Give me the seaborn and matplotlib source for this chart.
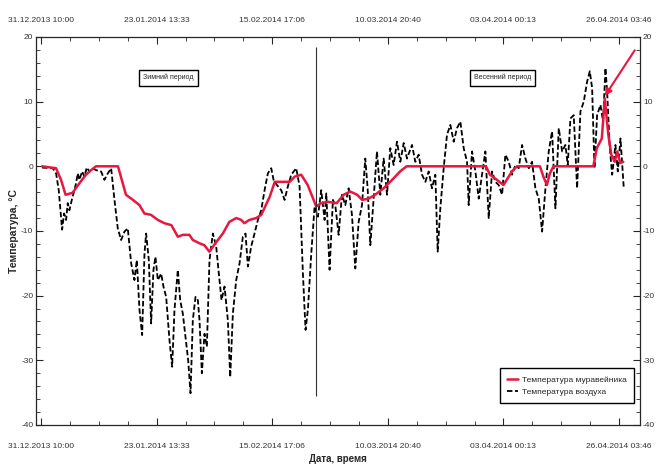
import numpy as np
import pandas as pd
import matplotlib
matplotlib.use("Agg")
import matplotlib.pyplot as plt
import matplotlib.ticker as mticker
import matplotlib.dates as mdates
import seaborn as sns

# ---------------- data (days since 31.12.2013 10:00, °C) ----------------
start = pd.Timestamp("2013-12-31 10:00")

nest_days = [0.2, 3.0, 4.0, 4.9, 6.3, 7.7, 9.0, 10.0, 11.0, 15.4, 17.0, 18.4, 19.7,
             20.7, 22.0, 23.4, 24.7, 26.1, 27.4, 28.4, 29.7, 30.4, 31.7, 32.7, 33.7,
             35.1, 36.4, 37.7, 39.1, 40.1, 40.7, 41.7, 43.1, 44.1, 45.8, 46.8, 49.8,
             50.8, 52.1, 53.4, 55.1, 56.1, 57.5, 59.2, 60.6, 61.9, 63.3, 64.3, 65.6,
             66.9, 68.6, 70.3, 71.9, 73.2, 89.1, 89.9, 91.3, 92.6, 94.3, 95.3, 99.9,
             100.6, 101.3, 101.9, 102.6, 110.6, 111.3, 112.3, 112.9, 113.6, 114.2,
             114.9, 115.4, 116.0, 116.6]
nest_temp = [0.0, -0.3, -2.1, -4.4, -4.1, -2.6, -1.3, -0.6, 0.0, 0.0, -4.4, -5.2, -6.0,
             -7.3, -7.5, -8.3, -8.8, -9.1, -10.9, -10.6, -10.6, -11.4, -11.9, -12.2, -13.2,
             -11.7, -10.4, -8.6, -8.0, -8.3, -8.8, -8.3, -8.0, -7.5, -4.7, -2.4, -2.4,
             -1.6, -1.3, -2.9, -6.2, -5.7, -5.5, -5.7, -4.4, -3.9, -4.4, -5.2, -5.0,
             -4.4, -3.4, -2.1, -0.8, 0.0, 0.0, -1.3, -2.1, -2.9, -0.8, 0.0, 0.0,
             -1.6, -2.9, -1.1, 0.0, 0.0, 2.8, 4.3, 10.5, 4.9, 1.8,
             0.7, 2.3, 0.5, 0.7]

air_days = [0.20, 2.34, 3.01, 3.54, 4.21, 4.61, 5.01, 5.34, 5.68, 6.21, 6.68, 7.01, 7.35,
            7.68, 8.22, 8.68, 9.15, 9.69, 10.35, 11.02, 12.02, 12.69, 13.36, 14.03, 14.70,
            15.36, 16.03, 16.70, 17.37, 18.04, 18.70, 19.17, 19.71, 20.24, 20.71, 21.04,
            21.58, 22.04, 22.51, 22.91, 23.38, 24.05, 24.51, 25.05, 25.72, 26.25, 26.72,
            27.39, 27.86, 28.39, 28.92, 29.46, 29.93, 30.39, 30.93, 31.40, 31.73, 32.20,
            32.73, 33.20, 33.73, 34.40, 35.07, 35.60, 36.14, 36.74, 37.41, 37.88, 38.41,
            39.08, 39.75, 40.41, 40.95, 41.42, 42.08, 42.75, 43.42, 44.09, 44.76, 45.42,
            46.09, 46.56, 47.23, 48.10, 48.77, 49.43, 50.10, 51.10, 51.77, 52.44, 52.97,
            53.44, 54.11, 54.78, 55.44, 56.11, 56.78, 57.12, 57.78, 58.45, 58.92, 59.59,
            60.26, 60.93, 61.59, 62.26, 62.93, 63.60, 64.27, 64.93, 65.40, 65.94, 66.60,
            67.27, 67.94, 68.61, 69.28, 69.94, 70.61, 71.28, 71.95, 72.62, 73.28, 74.29,
            74.95, 75.62, 76.29, 76.96, 77.63, 78.29, 78.96, 79.43, 79.96, 80.63, 81.30,
            81.97, 82.64, 83.30, 83.97, 84.64, 85.31, 85.64, 86.31, 86.98, 87.65, 88.31,
            88.98, 89.65, 90.32, 90.99, 91.65, 92.32, 92.99, 93.66, 94.33, 94.99, 95.66,
            96.33, 97.00, 97.67, 98.33, 99.00, 99.67, 100.34, 101.01, 101.67, 102.34,
            103.01, 103.68, 104.35, 105.01, 105.48, 106.02, 106.68, 107.35, 108.02,
            108.69, 109.36, 109.89, 110.36, 110.83, 111.36, 112.03, 112.56, 113.03,
            113.36, 113.90, 114.37, 115.03, 115.50, 116.04, 116.70]
air_temp = [-0.2, -0.3, -1.1, -3.7, -9.8, -7.3, -8.3, -5.7, -6.8, -5.0, -3.7, -2.6, -1.1,
            -2.1, -0.8, -1.6, -0.2, -0.8, -0.3, -0.6, -0.8, -2.1, -1.1, -0.3, -5.2,
            -9.6, -11.4, -10.1, -9.6, -15.0, -17.6, -14.5, -22.2, -26.1, -13.5, -10.4,
            -14.5, -24.3, -16.0, -14.0, -17.6, -16.6, -18.6, -20.2, -26.9, -31.0, -22.2,
            -16.0, -20.7, -22.8, -26.4, -30.0, -35.1, -23.8, -20.2, -20.7, -23.8, -32.0,
            -25.9, -27.9, -14.5, -10.4, -12.4, -16.6, -20.7, -18.6, -23.8, -32.6, -22.8,
            -17.6, -15.0, -10.9, -10.4, -15.5, -12.4, -10.4, -8.3, -6.8, -3.7, -1.1,
            -0.3, -2.1, -2.9, -3.7, -5.2, -3.1, -1.3, -0.3, -3.1, -16.6, -25.3,
            -22.2, -13.5, -6.2, -7.8, -3.7, -8.3, -4.2, -16.0, -5.2, -6.0, -10.6,
            -4.4, -6.0, -3.4, -7.5, -15.8, -8.6, -6.0, 1.2, -3.4, -12.2, -5.0,
            2.3, -4.4, 1.2, -4.4, 2.8, 0.2, 3.8, 0.7, 3.6, 1.2, 3.3,
            0.7, 1.8, -1.3, -2.4, -0.8, -3.4, -1.3, -13.2, -6.5, -0.3, 4.9,
            6.4, 3.8, 5.9, 6.9, 2.8, 0.7, -6.0, 2.3, -0.8, -5.0, -1.3,
            2.3, -8.0, -0.8, -2.4, -2.9, -4.4, 1.8, 0.7, -1.3, 0.2, -0.3,
            3.3, 1.2, -0.3, 0.7, -3.4, -5.0, -10.1, -3.4, 2.3, 5.4,
            -6.5, 5.9, 2.3, 3.3, 0.2, 7.4, 7.9, -3.4, 8.5,
            10.0, 13.1, 14.7, 12.1, -0.3, 7.9, 9.5, 6.9, 15.2,
            11.6, 2.8, -1.3, 3.3, -0.8, 4.3, -3.4]

tick_step = pd.Timedelta(days=23, hours=3, minutes=33, seconds=20)
major_ticks = [start + i * tick_step for i in range(6)]
minor_ticks = [start + i * tick_step / 4 for i in range(-1, 22)]
season_split_day = 55.1
label_winter = "Зимний период"
label_spring = "Весенний период"
label_nest = "Температура муравейника"
label_air = "Температура воздуха"

def to_date(d):
    return start + pd.to_timedelta(np.asarray(d, dtype=float), unit="D")

nest_df = pd.DataFrame({"date": to_date(nest_days), "temp": nest_temp})
air_df = pd.DataFrame({"date": to_date(air_days), "temp": air_temp})

# ---------------- style ----------------
sns.set_style("ticks")
plt.rcParams["font.family"] = ["Liberation Sans Narrow", "DejaVu Sans Condensed",
                               "Liberation Sans", "DejaVu Sans"]
plt.rcParams["axes.unicode_minus"] = False

RED = "#e8173f"
fig = plt.figure(figsize=(6.56, 4.68), dpi=100)
ax = fig.add_axes([0.055, 0.092, 0.921, 0.829])

sns.lineplot(data=air_df, x="date", y="temp", ax=ax, color="black", lw=1.3,
             linestyle=(0, (3, 1.4)), estimator=None, sort=False, label=label_air)
sns.lineplot(data=nest_df, x="date", y="temp", ax=ax, color=RED, lw=1.8,
             estimator=None, sort=False, label=label_nest)

ax.vlines(to_date([season_split_day])[0], -35.6, 18.5, color="#333333", lw=0.8)

ax.set_xlim(to_date([-1.0])[0], to_date([120.0])[0])
ax.set_ylim(-40, 20)

date_fmt = mdates.DateFormatter("%d.%m.%Y %H:%M")
ax.xaxis.set_major_locator(mticker.FixedLocator(mdates.date2num(major_ticks)))
ax.xaxis.set_minor_locator(mticker.FixedLocator(mdates.date2num(minor_ticks)))
ax.xaxis.set_major_formatter(date_fmt)
ax.yaxis.set_major_locator(mticker.MultipleLocator(10))
ax.yaxis.set_minor_locator(mticker.MultipleLocator(2))

ax.tick_params(axis="x", which="both", top=True, labeltop=False, direction="in",
               labelsize=6, pad=13, labelcolor="#333333")
ax.tick_params(axis="y", which="both", right=True, labelright=True, direction="in",
               labelsize=6, pad=2, labelcolor="#333333")
ax.tick_params(which="major", length=5, width=0.8)
ax.tick_params(which="minor", length=3, width=0.6)
for s in ax.spines.values():
    s.set_linewidth(0.9)

# top date labels
sec = ax.secondary_xaxis("top")
sec.xaxis.set_major_locator(mticker.FixedLocator(mdates.date2num(major_ticks)))
sec.xaxis.set_major_formatter(date_fmt)
sec.tick_params(axis="x", which="both", length=0, labelsize=6, pad=9,
                labelcolor="#333333")
sec.spines["top"].set_visible(False)

ax.set_xlabel("Дата, время", fontsize=7, fontweight="bold", labelpad=3)
ax.set_ylabel("Температура, °С", fontsize=7.5, fontweight="bold")
ax.yaxis.set_label_coords(-0.028, 0.5)

box = dict(boxstyle="square,pad=0.6", fc="white", ec="black", lw=1.0)
ax.text(to_date([25.5])[0], 13.7, label_winter, ha="center", va="center",
        fontsize=5, bbox=box)
ax.text(to_date([92.4])[0], 13.7, label_spring, ha="center", va="center",
        fontsize=5, bbox=box)

ax.annotate("", xy=(to_date([112.6])[0], 10.5), xytext=(to_date([119.2])[0], 18.3),
            arrowprops=dict(arrowstyle="-|>", color=RED, lw=1.5, mutation_scale=10))

handles, labels = ax.get_legend_handles_labels()
order = [labels.index(label_nest), labels.index(label_air)]
leg = ax.legend([handles[i] for i in order], [labels[i] for i in order],
                loc="lower right", bbox_to_anchor=(0.997, 0.045), fontsize=6,
                frameon=True, fancybox=False, edgecolor="black", framealpha=1,
                handlelength=1.3, handletextpad=0.5, borderpad=0.9)
leg.get_frame().set_linewidth(1.0)

fig.savefig("out.png", dpi=100)
